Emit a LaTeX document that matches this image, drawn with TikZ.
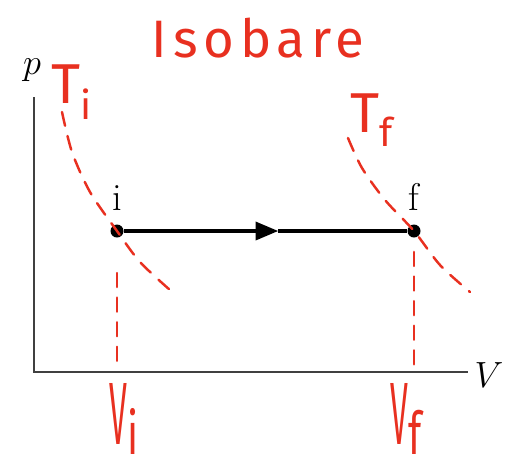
\documentclass[tikz,border=0pt]{standalone}
\usepackage{fontspec}
\newfontfamily\hand{Fira Sans}
\newfontfamily\handwide{Fira Sans}[LetterSpace=11]
\usepackage{xcolor}
\usetikzlibrary{positioning,arrows}
\definecolor{pen}{RGB}{232,48,32}

\begin{document}
\begin{tikzpicture}[x=0.02cm,y=-0.02cm,>=triangle 45]
\tikzset{
  axis/.style={line width=1.5pt,black!75},
  dot/.style={circle,fill=black,inner sep=0pt,minimum size=0.26cm},
  lbl/.style={font=\fontsize{22}{22}\selectfont},
  iso/.style={pen,line width=1.4pt,line cap=round,dash pattern=on 8pt off 6pt},
  hw/.style={text=pen,font=\hand\fontsize{32}{32}\selectfont,inner sep=0pt},
  vlab/.style={hw,font=\hand\fontsize{28}{28}\selectfont,anchor=base}
}
\newcommand{\vsub}[1]{\scalebox{.65}[1.8]{V}\raisebox{-6pt}{\scalebox{.8}[1.2]{#1}}}
\useasboundingbox (0,0) rectangle (510,458);

\node[text=pen,font=\handwide\fontsize{30}{30}\selectfont] (title) at (258,38) {Isobare};

% axes
\coordinate (o) at (34,372);
\coordinate (ytop) at (34,97);
\coordinate (xend) at (468,372);
\draw[axis] (ytop) |- (xend);
\node[lbl] (pl) at (32,70) {$p$};
\node[lbl] (vl) at (489,375) {$V$};

% states
\node[dot] (i) at (117,231) {};
\node[dot] (f) at (414,231) {};
\node[lbl,above=4pt of i] (il) {i};
\node[lbl,above=4pt of f] (fl) {f};
\coordinate (mid) at (278,231);
\draw[line width=2pt,->] (i) -- (mid);
\draw[line width=2pt] (mid) -- (f);

% isotherms
\draw[iso] plot[smooth] coordinates {(62,112) (72,152) (90,192) (i.center) (140,262) (170,290)};
\draw[iso] plot[smooth] coordinates {(348,138) (362,168) (385,200) (f.center) (440,265) (470,292)};
\draw[iso,shorten <=20pt,shorten >=4pt] (i) -- (i |- o);
\draw[iso,shorten <=8pt] (f) -- (f |- o);

\node[hw] (ti) at (72,92) {T\textsubscript{i}};
\node[hw] (tf) at (372,120) {T\textsubscript{f}};
\node[vlab] (vi) at (124,444) {\vsub{i}};
\node[vlab] (vf) at (406,444) {\vsub{f}};
\end{tikzpicture}
\end{document}
